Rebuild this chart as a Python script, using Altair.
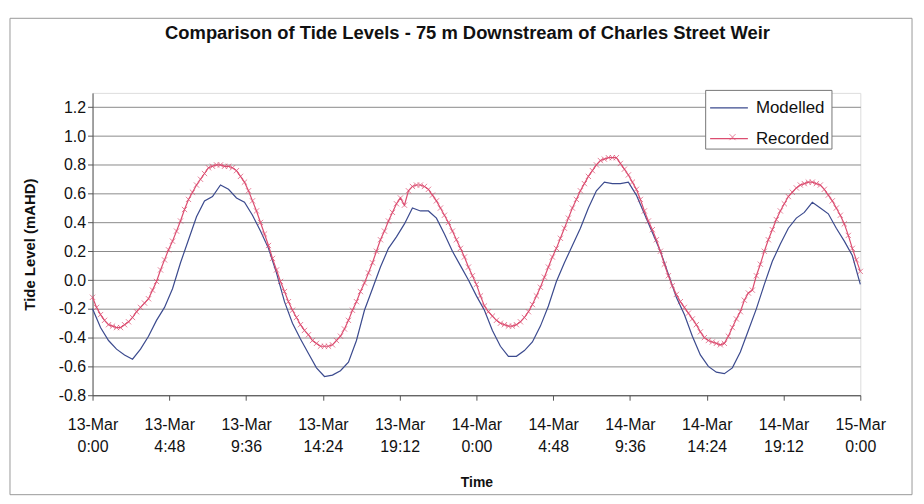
import altair as alt
import pandas as pd

# ---- data (hours since 13-Mar 0:00, level in mAHD) ----
hours_modelled = [i * 0.5 for i in range(97)]
modelled = [
    -0.20, -0.33, -0.42, -0.48, -0.52, -0.55, -0.48, -0.39, -0.28, -0.19,
    -0.06, 0.12, 0.28, 0.44, 0.55, 0.58, 0.66, 0.63, 0.57, 0.54,
    0.45, 0.34, 0.22, 0.05, -0.15, -0.30, -0.41, -0.51, -0.61, -0.67,
    -0.66, -0.63, -0.57, -0.42, -0.21, -0.06, 0.09, 0.22, 0.30, 0.39,
    0.50, 0.48, 0.48, 0.43, 0.32, 0.20, 0.10, 0.00, -0.11, -0.21,
    -0.35, -0.46, -0.53, -0.53, -0.49, -0.43, -0.32, -0.18, -0.01, 0.12,
    0.24, 0.36, 0.50, 0.62, 0.68, 0.67, 0.67, 0.68, 0.59, 0.46,
    0.33, 0.20, 0.04, -0.12, -0.24, -0.39, -0.52, -0.60, -0.64, -0.65,
    -0.61, -0.50, -0.35, -0.20, -0.03, 0.13, 0.25, 0.36, 0.43, 0.47,
    0.54, 0.50, 0.46, 0.36, 0.27, 0.17, -0.03,
]

hours_recorded = [i * 0.25 for i in range(193)]
recorded = [
    -0.12, -0.19, -0.24, -0.28, -0.31, -0.32, -0.33, -0.33,
    -0.31, -0.29, -0.26, -0.22, -0.19, -0.16, -0.13, -0.07,
    -0.01, 0.07, 0.14, 0.21, 0.27, 0.34, 0.41, 0.49,
    0.56, 0.61, 0.66, 0.70, 0.74, 0.78, 0.79, 0.80,
    0.80, 0.79, 0.79, 0.78, 0.76, 0.72, 0.68, 0.62,
    0.55, 0.48, 0.40, 0.32, 0.24, 0.15, 0.07, -0.01,
    -0.08, -0.15, -0.21, -0.26, -0.31, -0.35, -0.38, -0.42,
    -0.44, -0.46, -0.46, -0.46, -0.45, -0.42, -0.39, -0.34,
    -0.28, -0.21, -0.15, -0.08, -0.02, 0.05, 0.12, 0.20,
    0.28, 0.34, 0.41, 0.47, 0.53, 0.57, 0.52, 0.62,
    0.65, 0.66, 0.66, 0.65, 0.63, 0.59, 0.55, 0.50,
    0.45, 0.40, 0.34, 0.28, 0.22, 0.16, 0.09, 0.03,
    -0.03, -0.11, -0.18, -0.22, -0.25, -0.28, -0.30, -0.31,
    -0.32, -0.32, -0.31, -0.29, -0.26, -0.22, -0.17, -0.11,
    -0.05, 0.02, 0.09, 0.16, 0.22, 0.29, 0.36, 0.43,
    0.50, 0.56, 0.62, 0.67, 0.72, 0.76, 0.80, 0.83,
    0.84, 0.85, 0.85, 0.85, 0.81, 0.77, 0.73, 0.68,
    0.63, 0.56, 0.48, 0.41, 0.35, 0.28, 0.20, 0.11,
    0.03, -0.04, -0.10, -0.15, -0.19, -0.23, -0.27, -0.31,
    -0.36, -0.40, -0.42, -0.43, -0.44, -0.45, -0.44, -0.39,
    -0.33, -0.27, -0.22, -0.14, -0.09, -0.07, 0.03, 0.11,
    0.20, 0.28, 0.35, 0.42, 0.48, 0.53, 0.58, 0.61,
    0.64, 0.66, 0.67, 0.68, 0.68, 0.67, 0.66, 0.63,
    0.59, 0.55, 0.50, 0.45, 0.39, 0.31, 0.22, 0.14,
    0.06,
]

series_names = ["Modelled", "Recorded"]
series_colors = ["#3B4A8E", "#DC4D70"]

x_tick_values = [0, 4.8, 9.6, 14.4, 19.2, 24, 28.8, 33.6, 38.4, 43.2, 48]
x_tick_days = ["13-Mar", "13-Mar", "13-Mar", "13-Mar", "13-Mar", "14-Mar",
               "14-Mar", "14-Mar", "14-Mar", "14-Mar", "15-Mar"]
x_tick_times = ["0:00", "4:48", "9:36", "14:24", "19:12", "0:00",
                "4:48", "9:36", "14:24", "19:12", "0:00"]
y_tick_values = [-0.8, -0.6, -0.4, -0.2, 0.0, 0.2, 0.4, 0.6, 0.8, 1.0, 1.2]

df = pd.concat([
    pd.DataFrame({"t": hours_modelled, "v": modelled, "series": "Modelled"}),
    pd.DataFrame({"t": hours_recorded, "v": recorded, "series": "Recorded"}),
])
df["marker"] = df["series"]

FONT = "Liberation Sans"

days_js = "[" + ",".join(f"'{d}'" for d in x_tick_days) + "]"
times_js = "[" + ",".join(f"'{t}'" for t in x_tick_times) + "]"
x_label_expr = (f"[{days_js}[round(datum.value/4.8)], "
                f"{times_js}[round(datum.value/4.8)]]")

X_PATH = "M-1,-1L1,1M-1,1L1,-1"
LINE_PATH = "M-0.84,0L1.61,0"

x_enc = alt.X(
    "t:Q",
    scale=alt.Scale(domain=[0, 48], nice=False, zero=False),
    axis=alt.Axis(
        values=x_tick_values,
        labelExpr=x_label_expr,
        labelFlush=False,
        labelOverlap=False,
        title="Time",
        grid=False,
        tickSize=5,
        tickColor="#555",
        domainColor="#555",
        labelFont=FONT,
        labelFontSize=16,
        labelColor="#111",
        labelLineHeight=23,
        labelPadding=16,
        titleFont=FONT,
        titleFontSize=14,
        titleFontWeight="bold",
        titleColor="#111",
        titlePadding=21,
    ),
)

y_enc = alt.Y(
    "v:Q",
    scale=alt.Scale(domain=[-0.8, 1.3], nice=False, zero=False),
    axis=alt.Axis(
        values=y_tick_values,
        labelExpr="replace(format(datum.value, '.1f'), '\u2212', '-')",
        title="Tide Level (mAHD)",
        grid=True,
        gridColor="#8a8a8a",
        gridWidth=1,
        tickSize=5,
        tickColor="#555",
        domainColor="#555",
        labelFont=FONT,
        labelFontSize=16,
        labelColor="#111",
        labelPadding=2,
        titleFont=FONT,
        titleFontSize=15,
        titleFontWeight="bold",
        titleColor="#111",
        titlePadding=21,
    ),
)

color = alt.Color(
    "series:N",
    scale=alt.Scale(domain=series_names, range=series_colors),
    legend=alt.Legend(
        title=None,
        orient="none",
        legendX=616,
        legendY=-3,
        direction="vertical",
        strokeColor="#777",
        fillColor="white",
        padding=1.5,
        symbolType=LINE_PATH,
        symbolSize=961,
        symbolStrokeWidth=1.2,
        symbolFillColor="transparent",
        rowPadding=6,
        labelFont=FONT,
        labelFontSize=17,
        labelColor="#111",
        labelOffset=16.5,
    ),
)

lines = alt.Chart(df).mark_line(strokeWidth=1.2).encode(x=x_enc, y=y_enc, color=color)

points = alt.Chart(df).transform_filter(
    alt.datum.series == "Recorded"
).mark_point(size=28, strokeWidth=1, filled=False, color=series_colors[1]).encode(
    x=x_enc,
    y=y_enc,
    shape=alt.Shape(
        "marker:N",
        scale=alt.Scale(domain=["Recorded"], range=[X_PATH]),
        legend=alt.Legend(
            title=None,
            orient="none",
            legendX=640,
            legendY=41,
            padding=0,
            symbolSize=36,
            symbolStrokeColor=series_colors[1],
            symbolFillColor="transparent",
            symbolStrokeWidth=1,
            labelExpr="''",
            labelFontSize=1,
            labelOffset=0,
        ),
    ),
)

# outer chart-area frame (decoration, like the Excel chart border)
frame = alt.Chart(pd.DataFrame({"a": [0]})).mark_rect(
    fill="transparent", stroke="#999", strokeWidth=1, clip=False
).encode(
    x=alt.value(-83), x2=alt.value(824), y=alt.value(-75), y2=alt.value(404)
)

chart = alt.layer(frame, lines, points).properties(
    width=772,
    height=304,
    title=alt.TitleParams(
        "Comparison of Tide Levels - 75 m Downstream of Charles Street  Weir",
        font=FONT,
        fontSize=18.5,
        fontWeight="bold",
        color="#111",
        anchor="middle",
        frame="group",
        offset=-25,
        dx=-9,
    ),
    autosize=alt.AutoSizeParams(type="none"),
    padding={"left": 85, "top": 84, "right": 56, "bottom": 104},
).configure_view(stroke="#999").configure(background="white")

chart.save("out.html", embed_options={"renderer": "svg", "actions": False})
